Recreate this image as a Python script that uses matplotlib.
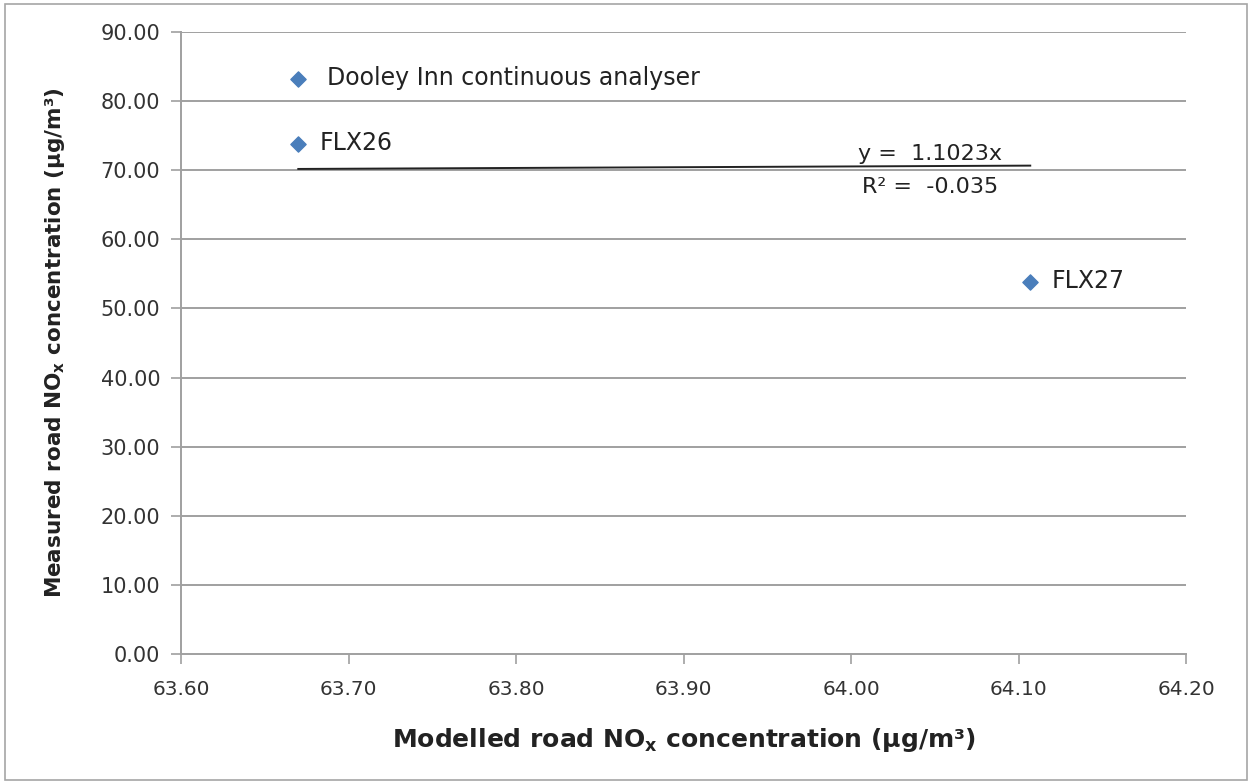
import matplotlib.pyplot as plt
from matplotlib.patches import Rectangle

# Datos
sites = ["Dooley Inn continuous analyser", "FLX26", "FLX27"]
modelled = [63.67, 63.67, 64.107]
measured = [83.2, 73.8, 53.8]
slope = 1.1023
r2_text = "R² =  -0.035"

x_ticks = [63.60, 63.70, 63.80, 63.90, 64.00, 64.10, 64.20]
y_ticks = [0, 10, 20, 30, 40, 50, 60, 70, 80, 90]

plt.rcParams['font.family'] = ['DejaVu Sans']

fig = plt.figure(figsize=(12.52, 7.84), dpi=100)
ax = fig.add_axes([0.1446, 0.1658, 0.8027, 0.7934])

# borde exterior del gráfico
fig.patches.append(Rectangle((0.004, 0.005), 0.992, 0.99, transform=fig.transFigure,
                             fill=False, edgecolor="#a6a6a6", linewidth=1.2))

grid_c = "#a0a0a0"
for yv in y_ticks[1:]:
    ax.axhline(yv, color=grid_c, linewidth=1.4, zorder=1)

# puntos
ax.scatter(modelled, measured, marker="D", s=60, color="#4a7ebb", zorder=3)

# línea de tendencia
x0, x1 = min(modelled), max(modelled)
ax.plot([x0, x1], [slope * x0, slope * x1], color="#222222", linewidth=1.4, zorder=2)

# etiquetas de datos
offsets = [0.017, 0.013, 0.013]
for name, xv, yv, off in zip(sites, modelled, measured, offsets):
    ax.text(xv + off, yv + 0.2, name, fontsize=17, va="center", ha="left", color="#222222")

ax.text(64.047, 72.4, "y =  1.1023x", fontsize=16, ha="center", va="center", color="#222222")
ax.text(64.047, 67.6, r2_text, fontsize=16, ha="center", va="center", color="#222222")

ax.set_xlim(63.60, 64.20)
ax.set_ylim(0, 90)
ax.set_xticks(x_ticks)
ax.set_yticks(y_ticks)
ax.set_xticklabels([f"{v:.2f}" for v in x_ticks], fontsize=14.5, color="#333333")
ax.set_yticklabels([f"{v:.2f}" for v in y_ticks], fontsize=15, color="#333333")

for side in ["top", "right"]:
    ax.spines[side].set_visible(False)
for side in ["left", "bottom"]:
    ax.spines[side].set_color(grid_c)
    ax.spines[side].set_linewidth(1.4)
ax.tick_params(axis="both", direction="out", length=7, width=1.2, color=grid_c)
ax.tick_params(axis="x", pad=12)
ax.tick_params(axis="y", pad=8)

ax.set_xlabel(r"Modelled road NO$_\mathregular{x}$ concentration (μg/m³)",
              fontsize=18, fontweight="bold", color="#222222", labelpad=19)
ax.set_ylabel(r"Measured road NO$_\mathregular{x}$ concentration (μg/m³)",
              fontsize=15.5, fontweight="bold", color="#222222", labelpad=24)

fig.savefig("out.png", dpi=100)
